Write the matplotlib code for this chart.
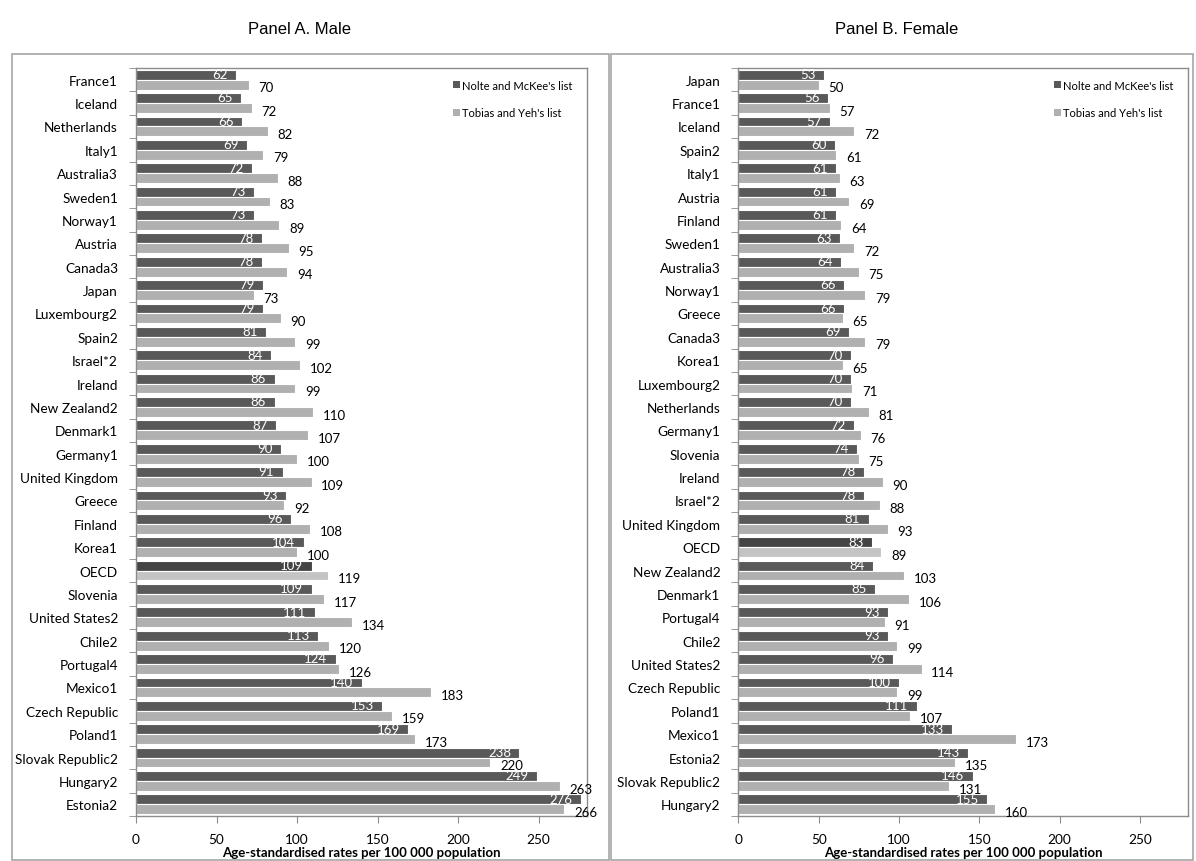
import matplotlib.pyplot as plt
from matplotlib.patches import Patch, Rectangle

plt.rcParams['font.family'] = ['Lato', 'DejaVu Sans']

male_countries = ['France1', 'Iceland', 'Netherlands', 'Italy1', 'Australia3', 'Sweden1',
                  'Norway1', 'Austria', 'Canada3', 'Japan', 'Luxembourg2', 'Spain2',
                  'Israel*2', 'Ireland', 'New Zealand2', 'Denmark1', 'Germany1',
                  'United Kingdom', 'Greece', 'Finland', 'Korea1', 'OECD', 'Slovenia',
                  'United States2', 'Chile2', 'Portugal4', 'Mexico1', 'Czech Republic',
                  'Poland1', 'Slovak Republic2', 'Hungary2', 'Estonia2']
male_nolte = [62, 65, 66, 69, 72, 73, 73, 78, 78, 79, 79, 81, 84, 86, 86, 87, 90, 91, 93, 96,
              104, 109, 109, 111, 113, 124, 140, 153, 169, 238, 249, 276]
male_tobias = [70, 72, 82, 79, 88, 83, 89, 95, 94, 73, 90, 99, 102, 99, 110, 107, 100, 109, 92,
               108, 100, 119, 117, 134, 120, 126, 183, 159, 173, 220, 263, 266]

female_countries = ['Japan', 'France1', 'Iceland', 'Spain2', 'Italy1', 'Austria', 'Finland',
                    'Sweden1', 'Australia3', 'Norway1', 'Greece', 'Canada3', 'Korea1',
                    'Luxembourg2', 'Netherlands', 'Germany1', 'Slovenia', 'Ireland', 'Israel*2',
                    'United Kingdom', 'OECD', 'New Zealand2', 'Denmark1', 'Portugal4', 'Chile2',
                    'United States2', 'Czech Republic', 'Poland1', 'Mexico1', 'Estonia2',
                    'Slovak Republic2', 'Hungary2']
female_nolte = [53, 56, 57, 60, 61, 61, 61, 63, 64, 66, 66, 69, 70, 70, 70, 72, 74, 78, 78, 81,
                83, 84, 85, 93, 93, 96, 100, 111, 133, 143, 146, 155]
female_tobias = [50, 57, 72, 61, 63, 69, 64, 72, 75, 79, 65, 79, 65, 71, 81, 76, 75, 90, 88, 93,
                 89, 103, 106, 91, 99, 114, 99, 107, 173, 135, 131, 160]

x_ticks = [0, 50, 100, 150, 200, 250]
legend_labels = ["Nolte and McKee's list", "Tobias and Yeh's list"]

DARK = '#595959'
LIGHT = '#b0b0b0'
DARK_OECD = '#444444'
LIGHT_OECD = '#c4c4c4'
FRAME = '#8c8c8c'


def draw_panel(ax, countries, nolte, tobias):
    n = len(countries)
    ys = list(range(n))
    h = 0.42
    dark_cols = [DARK_OECD if c == 'OECD' else DARK for c in countries]
    light_cols = [LIGHT_OECD if c == 'OECD' else LIGHT for c in countries]

    ax.barh([y - h / 2 for y in ys], nolte, height=h, color=dark_cols,
            edgecolor='white', linewidth=0.8)
    ax.barh([y + h / 2 for y in ys], tobias, height=h, color=light_cols,
            edgecolor='white', linewidth=0.8)

    for y, v in zip(ys, nolte):
        ax.annotate(str(v), (v, y - h / 2), xytext=(-6, 0.5), textcoords='offset points',
                    ha='right', va='center', color='white', fontsize=9.5)
    for y, v in zip(ys, tobias):
        ax.annotate(str(v), (v, y + h / 2), xytext=(7, -2), textcoords='offset points',
                    ha='left', va='center', color='black', fontsize=9.5)

    ax.set_xlim(0, 280)
    ax.set_ylim(n - 0.5, -0.5)
    ax.set_yticks(ys)
    ax.set_yticklabels(countries)
    ax.set_yticks([y + 0.5 for y in range(-1, n)], minor=True)
    ax.tick_params(axis='y', which='major', length=0, pad=13, labelsize=9.8)
    ax.tick_params(axis='y', which='minor', length=5, color=FRAME, direction='out')
    ax.set_xticks(x_ticks)
    ax.tick_params(axis='x', length=5, color=FRAME, pad=7, labelsize=9.8)
    ax.set_xlabel('Age-standardised rates per 100 000 population', fontweight='bold',
                  fontsize=9.5, labelpad=1)
    for side in ['left', 'right', 'top', 'bottom']:
        ax.spines[side].set_color(FRAME)
        ax.spines[side].set_linewidth(1.0)

    handles = [Patch(facecolor=DARK), Patch(facecolor=LIGHT)]
    ax.legend(handles, legend_labels, loc='upper right', bbox_to_anchor=(0.985, 0.995),
              frameon=False, fontsize=8, handlelength=0.6, handleheight=0.6,
              handletextpad=0.2, labelspacing=1.5, borderaxespad=0.3)


fig = plt.figure(figsize=(11.96, 8.62), dpi=100)

W, H = 1196.0, 862.0
fig.patches.append(Rectangle((12 / W, 1 - 861 / H), (609 - 12) / W, (861 - 55) / H,
                             transform=fig.transFigure, fill=False, edgecolor='#a6a6a6',
                             linewidth=1.2))
fig.patches.append(Rectangle((611 / W, 1 - 861 / H), (1193 - 611) / W, (861 - 55) / H,
                             transform=fig.transFigure, fill=False, edgecolor='#a6a6a6',
                             linewidth=1.2))

ax1 = fig.add_axes([136 / W, 1 - 817 / H, (587 - 136) / W, (817 - 69) / H])
ax2 = fig.add_axes([738.5 / W, 1 - 817 / H, (1188 - 738.5) / W, (817 - 69) / H])

draw_panel(ax1, male_countries, male_nolte, male_tobias)
draw_panel(ax2, female_countries, female_nolte, female_tobias)

fig.text(299 / W, 1 - 30 / H, 'Panel A. Male', ha='center', va='center',
         fontsize=12, family='Liberation Sans')
fig.text(897 / W, 1 - 30 / H, 'Panel B. Female', ha='center', va='center',
         fontsize=12, family='Liberation Sans')

plt.savefig('out.png', dpi=100)
plt.close()
